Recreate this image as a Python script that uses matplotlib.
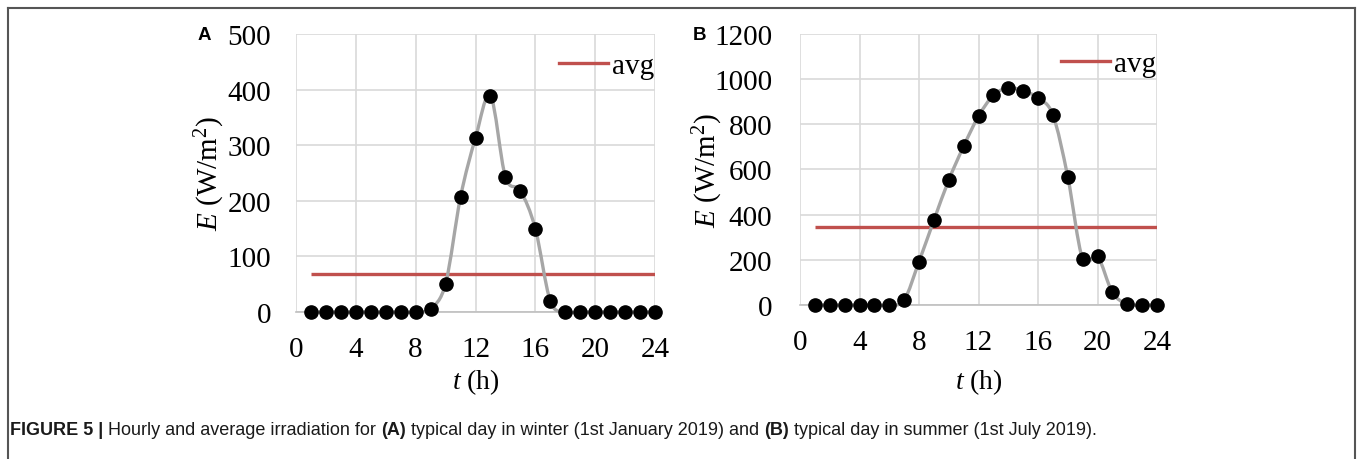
import numpy as np
import matplotlib
matplotlib.use("Agg")
import matplotlib.pyplot as plt
from matplotlib.path import Path
from matplotlib.patches import PathPatch
from matplotlib.lines import Line2D

plt.rcParams['font.family'] = ['Liberation Serif', 'DejaVu Serif']
plt.rcParams['mathtext.fontset'] = 'custom'
plt.rcParams['mathtext.rm'] = 'Liberation Serif'
plt.rcParams['mathtext.it'] = 'Liberation Serif:italic'

# ---------------- data ----------------
hours = list(range(1, 25))
winter = [0, 0, 0, 0, 0, 0, 0, 0, 6, 51, 207, 313, 389, 243, 218, 150, 20,
          0, 0, 0, 0, 0, 0, 0]
winter_avg = 68
summer = [0, 0, 0, 0, 0, 0, 22, 192, 375, 553, 703, 836, 928, 962, 948, 917,
          842, 568, 204, 215, 56, 4, 0, 0]
summer_avg = 347
x_ticks = [0, 4, 8, 12, 16, 20, 24]
yticks_a = [0, 100, 200, 300, 400, 500]
yticks_b = [0, 200, 400, 600, 800, 1000, 1200]

GRID = '#d9d9d9'
LINE_GRAY = '#a6a6a6'
RED = '#c0504d'
W, H = 1357.0, 460.0


def smooth_path(x, y):
    x = np.asarray(x, float)
    y = np.asarray(y, float)
    n = len(x)
    verts = [(x[0], y[0])]
    codes = [Path.MOVETO]
    for i in range(n - 1):
        p0 = np.array([x[max(i - 1, 0)], y[max(i - 1, 0)]])
        p1 = np.array([x[i], y[i]])
        p2 = np.array([x[i + 1], y[i + 1]])
        p3 = np.array([x[min(i + 2, n - 1)], y[min(i + 2, n - 1)]])
        c1 = p1 + (p2 - p0) / 6.0
        c2 = p2 - (p3 - p1) / 6.0
        verts += [tuple(c1), tuple(c2), tuple(p2)]
        codes += [Path.CURVE4] * 3
    return Path(verts, codes)


fig = plt.figure(figsize=(13.57, 4.6), dpi=100)


def panel(px, values, avg, yticks, letter, letter_x, ypad, ylab_x, leg_xy):
    left, top, right, bottom = px
    ax = fig.add_axes([left / W, 1 - bottom / H, (right - left) / W,
                       (bottom - top) / H])
    ax.set_xlim(0, 24)
    ax.set_ylim(yticks[0], yticks[-1])
    ax.set_xticks(x_ticks)
    ax.set_yticks(yticks)
    ax.grid(True, color=GRID, linewidth=1.2)
    ax.set_axisbelow(True)
    for s in ['top', 'right', 'left']:
        ax.spines[s].set_visible(False)
    ax.spines['bottom'].set_color('#bfbfbf')
    ax.spines['bottom'].set_linewidth(1.2)
    ax.tick_params(length=0, labelsize=21)
    ax.tick_params(axis='x', pad=17.5)
    ax.tick_params(axis='y', pad=ypad)
    ax.plot([hours[0], hours[-1]], [avg, avg], color=RED, linewidth=2.4,
            solid_capstyle='butt', zorder=2)
    ax.add_patch(PathPatch(smooth_path(hours, values), facecolor='none',
                           edgecolor=LINE_GRAY, linewidth=2.4, zorder=3,
                           clip_on=False))
    ax.plot(hours, values, linestyle='none', marker='o', markersize=9.5,
            color='black', zorder=4, clip_on=False)
    ax.set_ylabel('$E$ (W/m$^2$)', fontsize=21)
    ax.set_xlabel('$t$ (h)', fontsize=20)
    hgt = bottom - top
    wid = right - left
    ax.yaxis.set_label_coords((ylab_x - left) / wid, 0.5)
    ax.xaxis.set_label_coords(0.5, -(382 - bottom) / hgt)
    ax.xaxis.label.set_va('center')
    ax.yaxis.label.set_va('center')
    handle = Line2D([], [], color=RED, linewidth=2.4)
    ax.legend([handle], ['avg'], loc='center right', frameon=False,
              fontsize=21, handlelength=1.7, handletextpad=0.12,
              borderaxespad=0, borderpad=0,
              bbox_to_anchor=((leg_xy[0] - left) / wid,
                              (bottom - leg_xy[1]) / hgt))
    fig.text(letter_x / W, 1 - 36 / H, letter, fontsize=13.5,
             fontweight='bold', family='Liberation Sans', ha='left',
             va='center')
    return ax


axA = panel((296, 35, 655, 313), winter, winter_avg, yticks_a, 'A', 198,
            18, 210, (654, 67))
axB = panel((800, 35, 1157, 306), summer, summer_avg, yticks_b, 'B', 693,
            20, 708, (1156, 65))

# figure frame (top, left, right)
frame_kw = dict(color='#555555', linewidth=1.5, transform=fig.transFigure)
fig.add_artist(Line2D([8 / W, 1355 / W], [1 - 9 / H, 1 - 9 / H], **frame_kw))
fig.add_artist(Line2D([8 / W, 8 / W], [0, 1 - 9 / H], **frame_kw))
fig.add_artist(Line2D([1355 / W, 1355 / W], [0, 1 - 9 / H], **frame_kw))

# caption with mixed bold/regular pieces
pieces = [("FIGURE 5 | ", 'bold'),
          ("Hourly and average irradiation for ", 'normal'),
          ("(A)", 'bold'),
          (" typical day in winter (1st January 2019) and ", 'normal'),
          ("(B)", 'bold'),
          (" typical day in summer (1st July 2019).", 'normal')]
fig.canvas.draw()
renderer = fig.canvas.get_renderer()
x = 10 / W
y = 1 - 431 / H
for txt, wt in pieces:
    t = fig.text(x, y, txt, fontsize=13.0, fontweight=wt,
                 family='Liberation Sans', color='#1a1a1a', ha='left',
                 va='center')
    bb = t.get_window_extent(renderer=renderer)
    x += bb.width / W

fig.savefig('out.png', dpi=100)
